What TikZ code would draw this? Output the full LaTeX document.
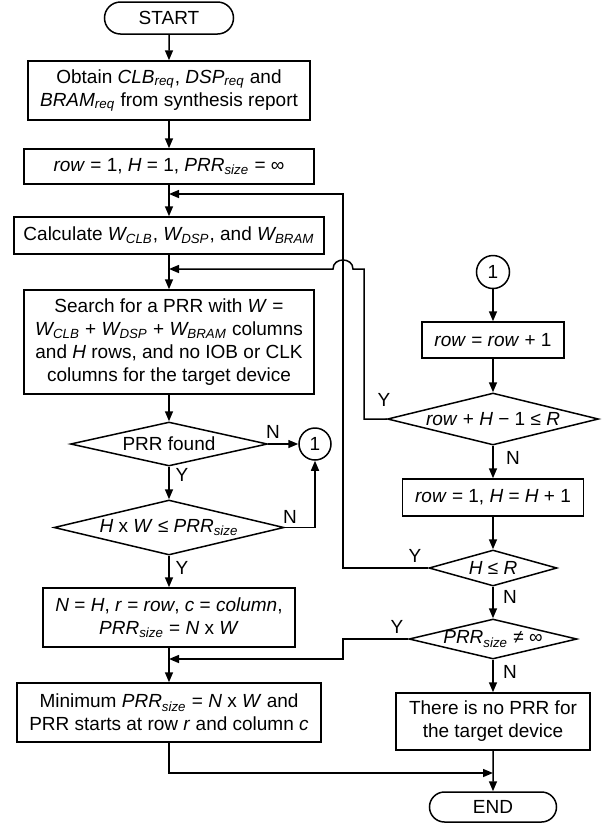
\documentclass[tikz,border=0pt]{standalone}
\usepackage{fontspec}
\setmainfont{Liberation Sans}
\usetikzlibrary{positioning,arrows.meta,shapes.geometric,shapes.misc}
\newcommand{\vsub}[2]{\textit{#1\textsubscript{#2}}}
\newcommand{\dec}[1]{\makebox[0pt]{#1}}

\begin{document}
\begin{tikzpicture}[
  x=0.5pt, y=-0.5pt,
  font=\fontsize{9.5}{11.5}\selectfont,
  line width=0.75pt,
  proc/.style={draw, rectangle, align=center, inner sep=2pt},
  term/.style={draw, rounded rectangle, inner sep=2pt},
  decision/.style={draw, diamond, aspect=1, inner sep=0pt},
  conn/.style={draw, circle, inner sep=0pt, minimum size=16pt},
  arr/.style={-{Triangle[length=5pt,width=4pt]}},
  lbl/.style={inner sep=0pt}
]
\useasboundingbox (0,0) rectangle (608,827);
% left column
\node[term, minimum width=68.5pt, minimum height=16pt] (start) at (169,18) {START};
\node[proc, minimum width=141pt, minimum height=29.5pt] (obtain) at (169,90.5)
  {Obtain \vsub{CLB}{req}, \vsub{DSP}{req} and\\\vsub{BRAM}{req} from synthesis report};
\node[proc, minimum width=145pt, minimum height=17.5pt] (init) at (169,166.5)
  {\textit{row} = 1, \textit{H} = 1, \vsub{PRR}{size} = ∞};
\node[proc, minimum width=155pt, minimum height=18.5pt] (calc) at (169,235.5)
  {Calculate \vsub{W}{CLB}, \vsub{W}{DSP}, and \vsub{W}{BRAM}};
\node[proc, minimum width=145pt, minimum height=52pt] (search) at (169,342)
  {Search for a PRR with \textit{W} =\\\vsub{W}{CLB} + \vsub{W}{DSP} + \vsub{W}{BRAM} columns\\and \textit{H} rows, and no IOB or CLK\\columns for the target device};
\node[decision, minimum width=98.5pt, minimum height=22pt] (found) at (169,444)
  {\dec{PRR found}};
\node[decision, minimum width=115pt, minimum height=27.5pt] (hw) at (169,527.5)
  {\dec{\textit{H} x \textit{W} ≤ \vsub{PRR}{size}}};
\node[proc, minimum width=126pt, minimum height=29.5pt] (assign) at (169,617.5)
  {\textit{N} = \textit{H}, \textit{r} = \textit{row}, \textit{c} = \textit{column},\\\vsub{PRR}{size} = \textit{N} x \textit{W}};
\node[proc, minimum width=152pt, minimum height=29.5pt] (min) at (169,712.5)
  {Minimum \vsub{PRR}{size} = \textit{N} x \textit{W} and\\PRR starts at row \textit{r} and column \textit{c}};
\node[conn] (con1a) at (315,444) {1};
% right column
\node[conn, minimum size=16.5pt] (con1b) at (493,272) {1};
\node[proc, minimum width=71pt, minimum height=18pt] (inc) at (493,340)
  {\textit{row} = \textit{row} + 1};
\node[decision, minimum width=105.5pt, minimum height=26pt] (rowchk) at (493,419)
  {\dec{\textit{row} + \textit{H} − 1 ≤ \textit{R}}};
\node[proc, minimum width=90.5pt, minimum height=18.5pt] (reset) at (493,497.5)
  {\textit{row} = 1, \textit{H} = \textit{H} + 1};
\node[decision, minimum width=64pt, minimum height=18pt] (hchk) at (493,568)
  {\dec{\textit{H} ≤ \textit{R}}};
\node[decision, minimum width=84pt, minimum height=20pt] (sizechk) at (493,639)
  {\dec{\vsub{PRR}{size} ≠ ∞}};
\node[proc, minimum width=97pt, minimum height=28.5pt] (nopr) at (493,721.5)
  {There is no PRR for\\the target device};
\node[term, minimum width=67.5pt, minimum height=15pt] (end) at (493,807) {END};
% joins
\coordinate (j1) at (169,194);
\coordinate (j2) at (169,269);
\coordinate (j3) at (169,659);
\coordinate (j4) at (493,773);
\coordinate (lx) at (343,0);
\coordinate (rx) at (364,0);
\coordinate (bumpR) at (353,269);
\coordinate (bumpL) at (333,269);
% connectors
\draw[arr] (start) -- (obtain);
\draw[arr] (obtain) -- (init);
\draw[arr] (init) -- (calc);
\draw[arr] (calc) -- (search);
\draw[arr] (search) -- (found);
\draw[arr] (found) -- (hw);
\draw[arr] (hw) -- (assign);
\draw[arr] (assign) -- (min);
\draw[arr] (min) |- (j4);
\draw[arr] (found) -- (con1a);
\draw[arr] (hw) -| (con1a);
\draw[arr] (con1b) -- (inc);
\draw[arr] (inc) -- (rowchk);
\draw[arr] (rowchk) -- (reset);
\draw[arr] (reset) -- (hchk);
\draw[arr] (hchk) -- (sizechk);
\draw[arr] (sizechk) -- (nopr);
\draw[arr] (nopr) -- (end);
\draw[arr] (rowchk.west) -| (rx |- j2) -- (bumpR)
  .. controls +(0,-12) and +(0,-12) .. (bumpL) -- (j2);
\draw[arr] (hchk.west) -| (lx |- j1) -- (j1);
\draw[arr] (sizechk.west) -| (lx |- j3) -- (j3);
% labels
\node[lbl] at (273,432) {N};
\node[lbl] at (182,475) {Y};
\node[lbl] at (290,517) {N};
\node[lbl] at (182,568) {Y};
\node[lbl] at (384,400) {Y};
\node[lbl] at (513,458) {N};
\node[lbl] at (415,556) {Y};
\node[lbl] at (510,597) {N};
\node[lbl] at (397,627) {Y};
\node[lbl] at (510,672) {N};
\end{tikzpicture}
\end{document}
